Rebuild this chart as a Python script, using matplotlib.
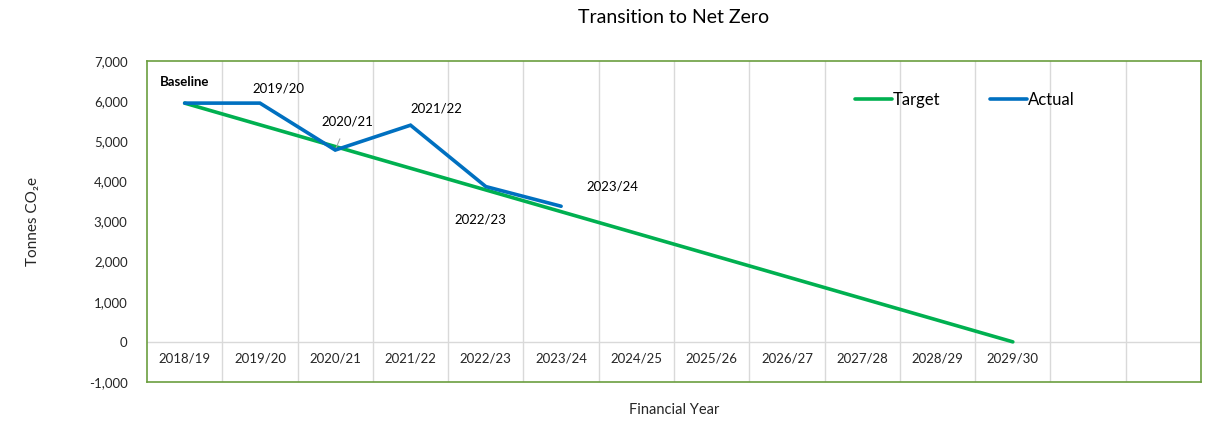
import matplotlib.pyplot as plt
from matplotlib.ticker import FuncFormatter

plt.rcParams['font.family'] = ['Lato', 'DejaVu Sans']

years = ["2018/19", "2019/20", "2020/21", "2021/22", "2022/23", "2023/24",
         "2024/25", "2025/26", "2026/27", "2027/28", "2028/29", "2029/30"]
n_slots = 14  # two empty category slots at the right

target = [5950, 5409, 4868, 4327, 3786, 3245, 2705, 2164, 1623, 1082, 541, 0]
actual = [5950, 5950, 4780, 5400, 3870, 3380]
actual_labels = ["Baseline", "2019/20", "2020/21", "2021/22", "2022/23", "2023/24"]

green = "#00B050"
blue = "#0070C0"
grid = "#D9D9D9"
border = "#6B9E3F"

fig = plt.figure(figsize=(12.1, 4.22), dpi=100)
ax = fig.add_axes([0.1215, 0.0948, 0.8711, 0.7607])

# category boundaries and the zero line
for b in range(1, n_slots):
    ax.axvline(b - 0.5, color=grid, linewidth=1, zorder=0)
ax.axhline(0, color=grid, linewidth=1, zorder=0)

ax.plot(range(len(target)), target, color=green, linewidth=2.6,
        solid_capstyle="round", label="Target", zorder=3)
ax.plot(range(len(actual)), actual, color=blue, linewidth=2.6,
        solid_capstyle="round", solid_joinstyle="miter", label="Actual", zorder=4)

# data labels (offsets in pixels)
offsets = [(0, 21), (18, 15), (12, 29), (26, 17), (-5, -33), (51, 20)]
for i, (lab, off) in enumerate(zip(actual_labels, offsets)):
    kw = dict(fontsize=9.5, color="#000000", ha="center", va="center")
    if lab == "Baseline":
        kw["fontweight"] = "bold"
    if lab == "2020/21":
        ax.annotate(lab, (i, actual[i]), xytext=off, textcoords="offset pixels",
                    arrowprops=dict(arrowstyle="-", color="#A6A6A6", lw=0.8,
                                    shrinkA=7, shrinkB=1), **kw)
    else:
        ax.annotate(lab, (i, actual[i]), xytext=off, textcoords="offset pixels", **kw)

# category labels sit just under the zero line
for i, y in enumerate(years):
    ax.text(i, -420, y, ha="center", va="center", fontsize=9.5, color="#262626")

ax.set_xlim(-0.5, n_slots - 0.5)
ax.set_ylim(-1000, 7000)
ax.set_xticks([])
ax.set_yticks(range(-1000, 7001, 1000))
ax.yaxis.set_major_formatter(FuncFormatter(lambda v, p: f"{int(v):,}"))
ax.tick_params(axis="y", length=0, pad=14, labelsize=9.5, labelcolor="#262626")
for s in ax.spines.values():
    s.set_color(border)
    s.set_linewidth(1.2)

fig.text(0.557, 0.958, "Transition to Net Zero", ha="center", va="center",
         fontsize=14, color="#000000")
fig.text(0.557, 0.028, "Financial Year", ha="center", va="center",
         fontsize=10.5, color="#262626")
fig.text(0.027, 0.475, "Tonnes CO₂e", ha="center", va="center",
         rotation=90, fontsize=11, color="#262626")

ax.legend(loc="center left", bbox_to_anchor=(0.672, 0.878), ncol=2, frameon=False,
          fontsize=12, handlelength=2.2, handletextpad=0.05, columnspacing=3.0,
          borderpad=0, borderaxespad=0)

fig.savefig("out.png", dpi=100)
